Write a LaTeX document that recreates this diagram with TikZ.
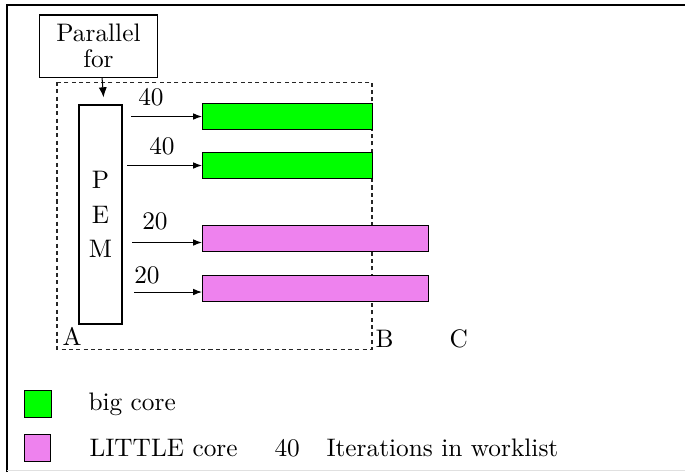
\documentclass[tikz,border=0pt]{standalone}
\usepackage{tikz}
\usetikzlibrary{arrows.meta,positioning}
\definecolor{bigcore}{RGB}{0,255,0}
\definecolor{littlecore}{RGB}{238,130,238}

\begin{document}
\begin{tikzpicture}[x=0.395pt,y=-0.395pt,>={Latex[length=3.5pt,width=2.6pt]},
  bar/.style={draw,anchor=west,minimum height=9.9pt,inner sep=0pt},
  key/.style={draw,minimum width=10.3pt,minimum height=11pt,inner sep=0pt},
  lbl/.style={inner sep=0pt},
  txt/.style={anchor=base west,inner sep=0pt}]
\useasboundingbox (0,0) rectangle (685,472);
% frame
\draw[line width=0.8pt] (7,472) -- (7,5) -- (685,5);
\draw[black!12] (7,470.5) -- (685,470.5);
\node[draw,align=center,minimum width=47pt,minimum height=24.5pt,inner sep=0pt] (par) at (98.5,46) {Parallel\\[-2pt]for};
\draw[black!85,dash pattern=on 1.6pt off 1.3pt] (57,82) rectangle (372,349);
\node[draw,thick,align=center,minimum width=17pt,minimum height=86.5pt,inner sep=0pt] (pem) at (100.5,214.5) {P\\[1.5pt]E\\[1.5pt]M};
\draw[->,>={Latex[length=4pt,width=3.2pt]},shorten >=2.6pt] ([xshift=1.4pt]par.south) -- ([xshift=1.4pt]pem.north);
% cores
\node[bar,fill=bigcore,minimum width=67.2pt] (big1) at (202,116.5) {};
\node[bar,fill=bigcore,minimum width=67.2pt] (big2) at (202,165.5) {};
\node[bar,fill=littlecore,minimum width=89.3pt] (little1) at (202,238.5) {};
\node[bar,fill=littlecore,minimum width=89.3pt] (little2) at (202,288.5) {};
\coordinate (s1) at (131,116.5);
\coordinate (s2) at (127,165.5);
\coordinate (s3) at (132,242.5);
\coordinate (s4) at (134,292);
\draw[->] (s1) -- (s1 -| big1.west);
\draw[->] (s2) -- (s2 -| big2.west);
\draw[->] (s3) -- (s3 -| little1.west);
\draw[->] (s4) -- (s4 -| little2.west);
\node[lbl] (n1) at (151,97) {40};
\node[lbl] (n2) at (162,146) {40};
\node[lbl] (n3) at (155,221) {20};
\node[lbl] (n4) at (147,275.5) {20};
\node[txt] (ma) at (62,345) {A};
\node[txt] (mb) at (375,347) {B};
\node[txt] (mc) at (449,347) {C};
% legend
\node[key,fill=bigcore] (keybig) at (38,404) {};
\node[key,fill=littlecore] (keylittle) at (37.5,448) {};
\node[txt] (txtbig) at (88,410) {big core};
\node[txt] (txtlittle) at (89,456) {LITTLE core};
\node[txt] (keynum) at (274,456) {40};
\node[txt] (txtnum) at (326,456) {Iterations in worklist};
\end{tikzpicture}
\end{document}
